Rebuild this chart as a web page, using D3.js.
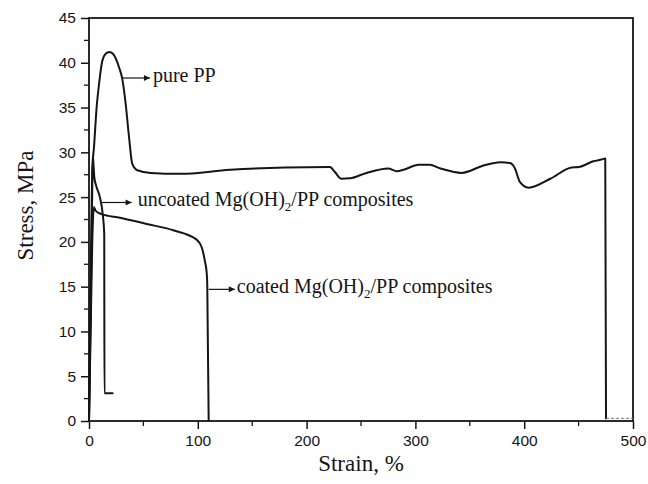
<!DOCTYPE html>
<html>
<head>
<meta charset="utf-8">
<script src="https://cdn.jsdelivr.net/npm/d3@7"></script>
<style>
  html, body { margin: 0; padding: 0; background: #fff; }
  svg { display: block; }
</style>
</head>
<body>
<svg id="chart" width="648" height="484"></svg>
<script>
// Tensile stress–strain curves: pure PP and Mg(OH)2/PP composites
const xTicks = [0, 100, 200, 300, 400, 500];
const yTicks = [0, 5, 10, 15, 20, 25, 30, 35, 40, 45];

// [strain %, stress MPa]
const purePP = [
  [0, 0], [1, 10], [2, 20], [3.1, 28.3], [4.6, 30.6], [7, 35], [9.2, 37.6],
  [12.2, 40.2], [15.3, 41.0], [18.7, 41.2], [22, 41.0], [27.6, 39.5],
  [30.6, 38.2], [33.7, 35.4], [36.8, 31.7], [39.8, 28.7], [44.4, 28.0],
  [56.7, 27.7], [83.6, 27.6], [129.6, 28.05], [180, 28.3], [221.5, 28.35],
  [226, 27.8], [232, 27.05], [240, 27.1], [255, 27.7], [275, 28.2],
  [283, 27.9], [289, 28.05], [303, 28.6], [313, 28.6], [323, 28.2],
  [342.5, 27.7], [362, 28.5], [378, 28.9], [387, 28.8], [391.5, 28.2],
  [396, 26.7], [404, 26.05], [424, 27.05], [443.6, 28.3], [450, 28.35],
  [463.5, 29.0], [471, 29.2], [474.5, 29.3], [475.2, 0.2]
];
const purePPTail = [[475.2, 0.3], [500, 0.3]];

const uncoated = [
  [0, 0], [1.5, 12], [3, 26], [3.6, 29.5], [4.2, 28.5], [4.9, 27.2],
  [7, 26.1], [10, 25], [12.6, 23.1], [14, 20.9], [14.2, 3.1], [22.4, 3.1]
];

const coated = [
  [0, 0], [1.5, 10], [3, 20], [4.5, 23.9], [6, 23.5], [11.6, 23.1],
  [28.5, 22.7], [53, 22.0], [77.5, 21.3], [98.9, 20.25], [103.6, 19.4],
  [106.6, 17.8], [108.2, 16.5], [108.7, 15.2], [110, 0]
];

// Callouts: arrow from a point on the curve to the label
const callouts = [
  { from: [31, 38.3], to: [56, 38.3], gap: 3, text: "pure PP", sub: null },
  { from: [11.6, 24.4], to: [39.2, 24.4], gap: 6, text: "uncoated Mg(OH)", sub: "2", rest: "/PP composites" },
  { from: [110, 14.7], to: [134, 14.7], gap: 2, text: "coated Mg(OH)", sub: "2", rest: "/PP composites" }
];

const svg = d3.select("#chart");
const x = d3.scaleLinear().domain([0, 500]).range([89, 633]);
const y = d3.scaleLinear().domain([0, 45]).range([421, 18]);
const ink = "#151515";

// Minor ticks
const xMinor = d3.range(50, 500, 100);
const yMinor = d3.range(2.5, 45, 5);
svg.append("g").selectAll("line").data(xMinor).join("line")
  .attr("x1", d => x(d)).attr("x2", d => x(d))
  .attr("y1", y(0)).attr("y2", y(0) + 5)
  .attr("stroke", ink).attr("stroke-width", 1.3);
svg.append("g").selectAll("line").data(yMinor).join("line")
  .attr("y1", d => y(d)).attr("y2", d => y(d))
  .attr("x1", x(0)).attr("x2", x(0) - 5)
  .attr("stroke", ink).attr("stroke-width", 1.3);

// Major axes
const xAxis = d3.axisBottom(x).tickValues(xTicks).tickSize(8).tickPadding(6).tickFormat(d3.format("d"));
const yAxis = d3.axisLeft(y).tickValues(yTicks).tickSize(8).tickPadding(5).tickFormat(d3.format("d"));

const gx = svg.append("g").attr("transform", `translate(0,${y(0)})`).call(xAxis);
const gy = svg.append("g").attr("transform", `translate(${x(0)},0)`).call(yAxis);
[gx, gy].forEach(g => {
  g.select(".domain").remove();
  g.selectAll(".tick line").attr("stroke", ink).attr("stroke-width", 1.5);
  g.selectAll(".tick text")
    .attr("fill", ink)
    .style("font-family", "'Liberation Sans', Arial, sans-serif")
    .style("font-size", "15.5px");
});

// Frame
svg.append("rect")
  .attr("x", x(0)).attr("y", y(45))
  .attr("width", x(500) - x(0)).attr("height", y(0) - y(45))
  .attr("fill", "none").attr("stroke", ink).attr("stroke-width", 1.8);

// Curves
const line = d3.line().x(d => x(d[0])).y(d => y(d[1])).curve(d3.curveMonotoneX);
[purePP, uncoated, coated].forEach(s => {
  svg.append("path").datum(s)
    .attr("d", line)
    .attr("fill", "none").attr("stroke", ink)
    .attr("stroke-width", 2).attr("stroke-linejoin", "round");
});
svg.append("path").datum(purePPTail)
  .attr("d", d3.line().x(d => x(d[0])).y(d => y(d[1])))
  .attr("fill", "none").attr("stroke", "#777")
  .attr("stroke-width", 1).attr("stroke-dasharray", "3,2");

// Arrowhead marker
svg.append("defs").append("marker")
  .attr("id", "head").attr("viewBox", "0 0 10 10")
  .attr("refX", 10).attr("refY", 5)
  .attr("markerWidth", 10).attr("markerHeight", 6)
  .attr("markerUnits", "userSpaceOnUse")
  .attr("orient", "auto")
  .append("path").attr("d", "M0,0 L10,5 L0,10 Z").attr("fill", ink);

callouts.forEach(c => {
  svg.append("line")
    .attr("x1", x(c.from[0])).attr("y1", y(c.from[1]))
    .attr("x2", x(c.to[0])).attr("y2", y(c.to[1]))
    .attr("stroke", ink).attr("stroke-width", 1.2)
    .attr("marker-end", "url(#head)");
  const t = svg.append("text")
    .attr("x", x(c.to[0]) + c.gap).attr("y", y(c.to[1]) + 4)
    .attr("fill", ink)
    .style("font-family", "'Liberation Serif', 'Times New Roman', serif")
    .style("font-size", "20px");
  t.append("tspan").text(c.text);
  if (c.sub) {
    t.append("tspan").attr("dy", 5).style("font-size", "13px").text(c.sub);
    t.append("tspan").attr("dy", -5).text(c.rest);
  }
});

// Axis titles
svg.append("text")
  .attr("x", (x(0) + x(500)) / 2).attr("y", 471)
  .attr("text-anchor", "middle").attr("fill", ink)
  .style("font-family", "'Liberation Serif', 'Times New Roman', serif")
  .style("font-size", "23px")
  .text("Strain, %");
svg.append("text")
  .attr("transform", `translate(33,${(y(0) + y(45)) / 2 - 14}) rotate(-90)`)
  .attr("text-anchor", "middle").attr("fill", ink)
  .style("font-family", "'Liberation Serif', 'Times New Roman', serif")
  .style("font-size", "23px")
  .text("Stress, MPa");
</script>
</body>
</html>
